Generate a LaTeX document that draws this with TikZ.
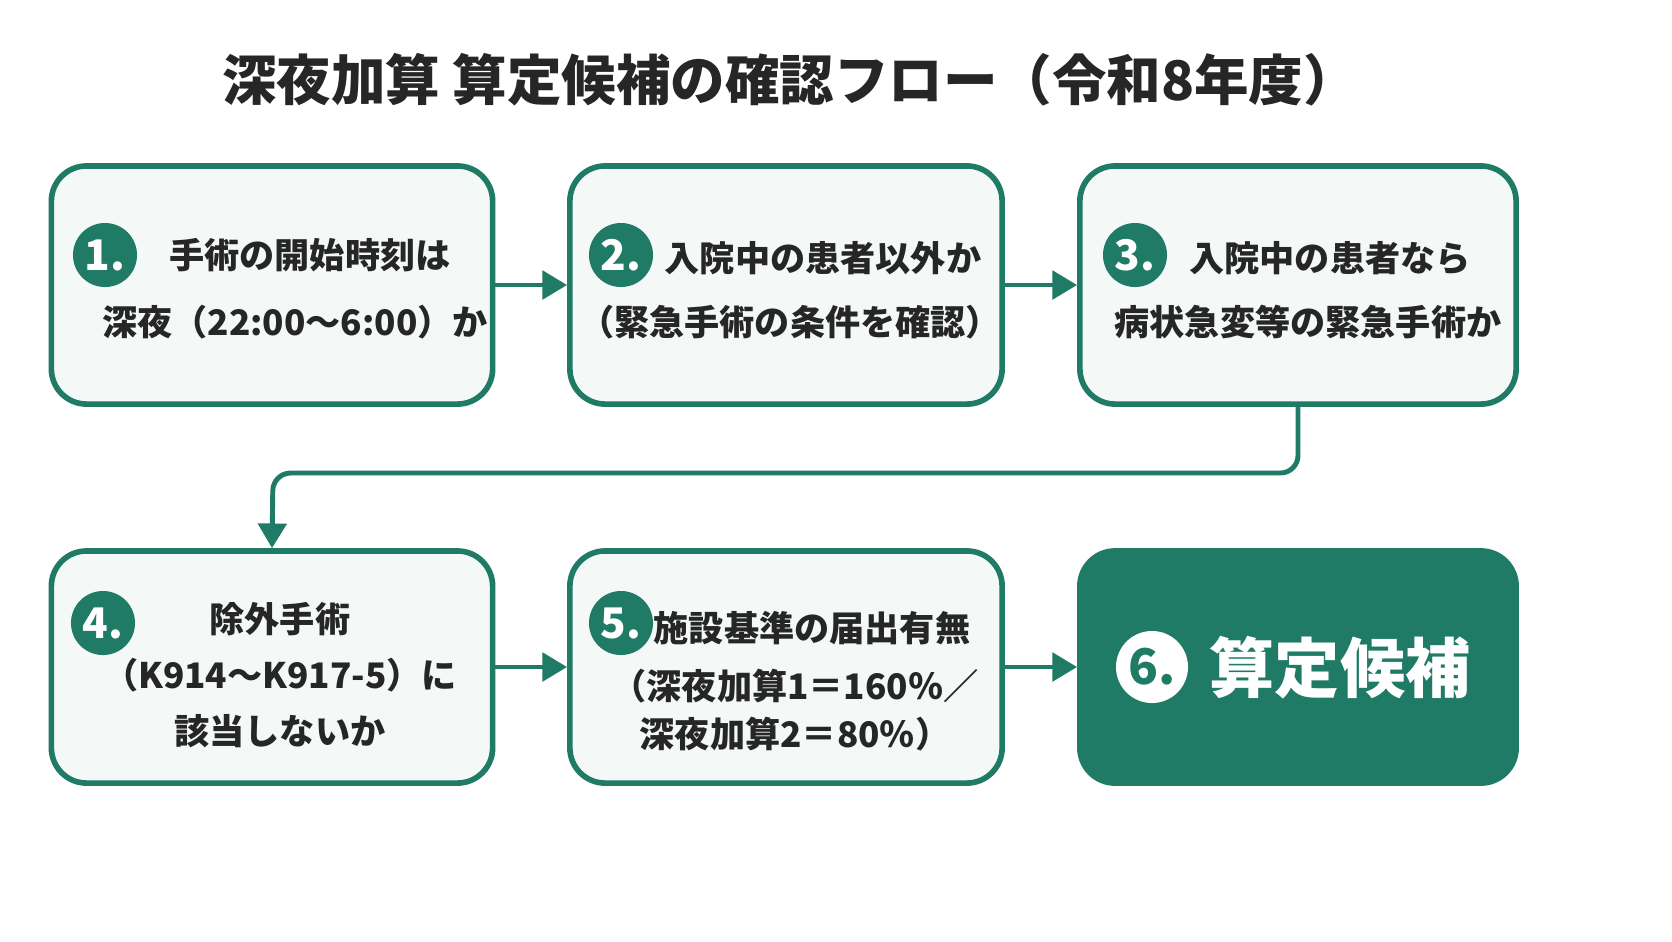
\documentclass[tikz,border=0pt]{standalone}
\usepackage{fontspec}
\setmainfont{Noto Sans CJK JP}
\usetikzlibrary{arrows.meta,positioning}
\definecolor{dgreen}{HTML}{1F7A66}
\definecolor{lgreen}{HTML}{F4F9F7}
\tikzset{
	stepbox/.style={draw=dgreen, line width=1.6pt, fill=lgreen, rounded corners=10pt, minimum width=4.41cm, minimum height=2.38cm},
	num/.style={circle, fill=dgreen, text=white, minimum size=0.64cm, inner sep=0pt, font=\fontsize{12}{12}\selectfont\bfseries},
	txt/.style={align=center, font=\fontsize{10}{16}\selectfont\bfseries, text=black!85},
	flow/.style={draw=dgreen, line width=1.4pt, -{Triangle[length=7pt,width=8pt]}}
}
\begin{document}
\begin{tikzpicture}[x=0.01cm,y=-0.01cm]
	\fill[white] (0,0) rectangle (1672,941);
	%title
	\node[font=\fontsize{15.5}{18}\selectfont\bfseries, text=black!85] (title) at (790,80) {深夜加算 算定候補の確認フロー（令和8年度）};
	%boxes
	\node[stepbox] (s1) at (272,285) {};
	\node[stepbox, minimum width=4.32cm] (s2) at (786,285) {};
	\node[stepbox, minimum width=4.36cm] (s3) at (1298,285) {};
	\node[stepbox, minimum height=2.32cm] (s4) at (272,667) {};
	\node[stepbox, minimum width=4.32cm, minimum height=2.32cm] (s5) at (786,667) {};
	\node[stepbox, fill=dgreen, minimum width=4.36cm, minimum height=2.32cm] (s6) at (1298,667) {};
	%numbers
	\node[num] (n1) at (105,255) {1.};
	\node[num] (n2) at (621,255) {2.};
	\node[num] (n3) at (1135,255) {3.};
	\node[num] (n4) at (103,623) {4.};
	\node[num] (n5) at (621,623) {5.};
	\node[num, fill=white, text=dgreen, minimum size=0.72cm, font=\fontsize{14}{14}\selectfont\bfseries] (n6) at (1152,667) {6.};
	%labels
	\node[txt] (t1a) at (310,255) {手術の開始時刻は};
	\node[txt] (t1b) at (295,322) {深夜（22:00〜6:00）か};
	\node[txt] (t2a) at (823,258) {入院中の患者以外か};
	\node[txt] (t2b) at (790,322) {（緊急手術の条件を確認）};
	\node[txt] (t3a) at (1330,258) {入院中の患者なら};
	\node[txt] (t3b) at (1308,322) {病状急変等の緊急手術か};
	\node[txt] (t4) at (280,675) {除外手術\\（K914〜K917-5）に\\該当しないか};
	\node[txt] (t5a) at (812,628) {施設基準の届出有無};
	\node[txt, font=\fontsize{10}{13.5}\selectfont\bfseries] (t5b) at (795,710) {（深夜加算1＝160％／\\深夜加算2＝80％）};
	\node[font=\fontsize{18.5}{20}\selectfont\bfseries, text=white] (t6) at (1340,668) {算定候補};
	%connectors
	\draw[flow] (s1) -- (s2);
	\draw[flow] (s2) -- (s3);
	\draw[flow] (s4) -- (s5);
	\draw[flow] (s5) -- (s6);
	\draw[flow, rounded corners=5pt] (s3.south) |- (273,473) -- (s4.north);
	\pgfresetboundingbox
	\useasboundingbox (0,0) rectangle (1672,941);
\end{tikzpicture}
\end{document}
